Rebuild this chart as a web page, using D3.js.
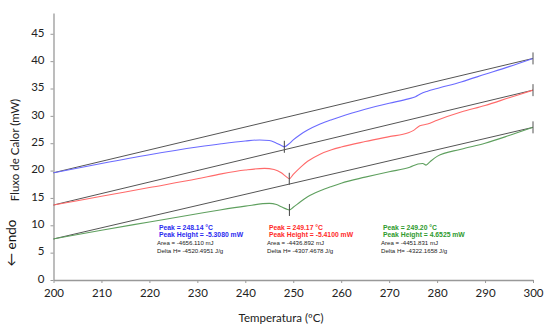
<!DOCTYPE html>
<html>
<head>
<meta charset="utf-8">
<script src="https://cdn.jsdelivr.net/npm/d3@7"></script>
<style>
  html, body { margin: 0; padding: 0; background: #fff; }
  #chart { width: 550px; height: 327px; }
  text { font-family: Lato, "Liberation Sans", sans-serif; }
</style>
</head>
<body>
<div id="chart"></div>
<script>
// temperatura (ºC) e fluxo de calor (mW)
const blueT = [200, 210, 220, 230, 235, 240, 243, 245, 246.5, 247.5, 248.14, 249, 250, 251.5, 253, 255.6, 258, 260, 265, 270, 274, 275.5, 276.5, 278, 280, 285, 290, 295, 300];
const blueV = [19.6, 21.3, 22.9, 24.3, 24.9, 25.4, 25.6, 25.5, 25.0, 24.6, 24.35, 24.8, 25.6, 26.6, 27.4, 28.5, 29.3, 29.9, 31.2, 32.3, 33.1, 33.5, 34.0, 34.5, 35.0, 36.2, 37.6, 39.0, 40.5];

const redT = [200, 210, 220, 230, 235, 240, 244, 246, 247.5, 248.5, 249.17, 250, 251.5, 253, 255.6, 258, 260, 265, 270, 274, 275, 276.4, 278, 280, 285, 290, 295, 300];
const redV = [13.7, 15.3, 16.9, 18.5, 19.4, 20.1, 20.4, 20.2, 19.6, 18.9, 18.5, 19.3, 20.6, 21.7, 23.0, 23.8, 24.3, 25.3, 26.2, 26.9, 27.3, 28.2, 28.5, 29.2, 30.7, 31.9, 33.3, 34.7];

const greenT = [200, 210, 220, 230, 234.7, 240, 245, 246.5, 247.5, 248.5, 249.2, 250, 251.5, 253, 255.6, 258, 260, 265, 270, 274.3, 276, 277, 277.7, 278.5, 280, 285, 290, 295, 300];
const greenV = [7.5, 9.1, 10.6, 12.1, 12.8, 13.5, 14.0, 13.8, 13.4, 13.0, 12.8, 13.3, 14.3, 15.2, 16.3, 17.1, 17.7, 18.8, 19.8, 20.6, 21.2, 21.3, 21.0, 21.6, 22.6, 23.9, 25.0, 26.4, 27.9];

// linhas de base (início e fim)
const baseT = [200, 300];
const blueBase = [19.6, 40.5];
const redBase = [13.7, 34.7];
const greenBase = [7.5, 27.9];

// picos
const peakT = [248.14, 249.17, 249.20];
const peakV = [24.35, 18.5, 12.8];

const xTicks = [200, 210, 220, 230, 240, 250, 260, 270, 280, 290, 300];
const yTicks = [0, 5, 10, 15, 20, 25, 30, 35, 40, 45];

const notes = [
  ["Peak = 248.14 °C", "Peak Height = -5.3080 mW", "Area = -4656.110 mJ", "Delta H= -4520.4951 J/g"],
  ["Peak = 249.17 °C", "Peak Height = -5.4100 mW", "Area = -4436.892 mJ", "Delta H= -4307.4678 J/g"],
  ["Peak = 249.20 °C", "Peak Height = 4.6525 mW", "Area = -4451.831 mJ", "Delta H= -4322.1658 J/g"]
];
const noteX = [159, 269, 383];

const series = [
  { t: blueT, v: blueV, base: blueBase, color: "#6b6bff", text: "#2b2bf0" },
  { t: redT, v: redV, base: redBase, color: "#ff6a6a", text: "#ff2a2a" },
  { t: greenT, v: greenV, base: greenBase, color: "#5fa05f", text: "#2e9a2e" }
];

const width = 550, height = 327;
const margin = { top: 13, right: 17, bottom: 47, left: 53.5 };

const svg = d3.select("#chart").append("svg")
  .attr("width", width)
  .attr("height", height);

const x = d3.scaleLinear().domain([200, 300]).range([margin.left, width - margin.right]);
const y = d3.scaleLinear().domain([0, 48.8]).range([height - margin.bottom, margin.top]);

// eixos
const xAxisG = svg.append("g")
  .attr("transform", `translate(0,${height - margin.bottom})`)
  .call(d3.axisBottom(x).tickValues(xTicks).tickSize(3).tickSizeOuter(0).tickPadding(6));
const yAxisG = svg.append("g")
  .attr("transform", `translate(${margin.left},0)`)
  .call(d3.axisLeft(y).tickValues(yTicks).tickSize(3).tickSizeOuter(0).tickPadding(6));

[xAxisG, yAxisG].forEach(g => {
  g.select(".domain").attr("stroke", "#999").attr("stroke-width", 1.3);
  g.selectAll(".tick line").attr("stroke", "#999");
  g.selectAll(".tick text").attr("fill", "#222").style("font-size", "11.5px")
    .style("font-family", "Lato, sans-serif");
});
yAxisG.selectAll(".tick text").attr("dy", "0.2em");

// títulos dos eixos
svg.append("text")
  .attr("x", 281).attr("y", 322)
  .attr("text-anchor", "middle")
  .style("font-size", "11.5px").attr("fill", "#222")
  .text("Temperatura (ºC)");

svg.append("text")
  .attr("transform", "translate(19,150) rotate(-90)")
  .attr("text-anchor", "middle")
  .style("font-size", "11.5px").attr("fill", "#222")
  .text("Fluxo de Calor (mW)");

svg.append("text")
  .attr("transform", "translate(16,243) rotate(-90)")
  .attr("text-anchor", "middle")
  .style("font-size", "13.5px").attr("fill", "#111")
  .text("← endo");

const line = d3.line()
  .x(d => x(d[0]))
  .y(d => y(d[1]))
  .curve(d3.curveMonotoneX);

series.forEach((s, i) => {
  // linha de base
  svg.append("path")
    .attr("d", line(baseT.map((t, k) => [t, s.base[k]])))
    .attr("fill", "none")
    .attr("stroke", "#555")
    .attr("stroke-width", 1);

  // curva DSC
  svg.append("path")
    .attr("d", line(s.t.map((t, k) => [t, s.v[k]])))
    .attr("fill", "none")
    .attr("stroke", s.color)
    .attr("stroke-width", 1.1);

  // marcador do pico
  svg.append("line")
    .attr("x1", x(peakT[i])).attr("x2", x(peakT[i]))
    .attr("y1", y(peakV[i]) - 6).attr("y2", y(peakV[i]) + 6)
    .attr("stroke", "#444").attr("stroke-width", 1);

  // marcador do fim
  svg.append("line")
    .attr("x1", x(300)).attr("x2", x(300))
    .attr("y1", y(s.base[1]) - 6).attr("y2", y(s.base[1]) + 6)
    .attr("stroke", "#555").attr("stroke-width", 1);

  // anotações
  const n = notes[i];
  [0, 1].forEach(k => {
    svg.append("text")
      .attr("x", noteX[i]).attr("y", 229.5 + k * 7.8)
      .style("font-family", "'Liberation Sans', Arial, sans-serif")
      .style("font-size", "6.8px").style("font-weight", "bold")
      .attr("fill", s.text)
      .text(n[k]);
  });
  [2, 3].forEach(k => {
    svg.append("text")
      .attr("x", noteX[i] - 2).attr("y", 245 + (k - 2) * 7.5)
      .style("font-family", "'Liberation Sans', Arial, sans-serif")
      .style("font-size", "6.1px")
      .attr("fill", "#222")
      .text(n[k]);
  });
});
</script>
</body>
</html>
